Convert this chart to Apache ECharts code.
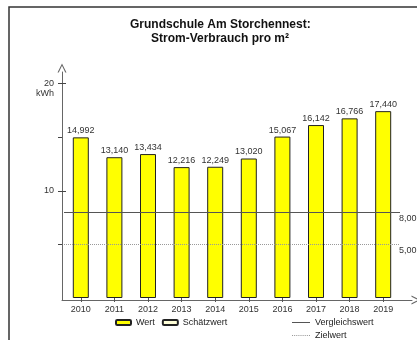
<!DOCTYPE html>
<html>
<head>
<meta charset="utf-8">
<script src="https://cdn.jsdelivr.net/npm/echarts@6/dist/echarts.min.js"></script>
<style>
  html, body { margin: 0; padding: 0; background: #fff; }
  #chart { width: 417px; height: 340px; }
</style>
</head>
<body>
<div id="chart"></div>
<script>
// Jahre und Stromverbrauch je m² (kWh)
const years = ['2010', '2011', '2012', '2013', '2014', '2015', '2016', '2017', '2018', '2019'];
const wert = [14.992, 13.140, 13.434, 12.216, 12.249, 13.020, 15.067, 16.142, 16.766, 17.440];
const schaetzwert = [];
const vergleichswert = 8;
const zielwert = 5;
const yTicks = [5, 10, 15, 20];
const yLabels = [10, 20];
const yCrossTicks = [10, 20];

const FONT = '"Liberation Sans", Arial, sans-serif';
const fmtDe = (v, d) => v.toFixed(d).replace('.', ',');
const arrowPath = 'path://M0,10 L5,0 L10,10 L8.6,10 L5,2.6 L1.4,10 Z';

// Legendensymbole: durchgezogene und gepunktete Linie
const solidIcon = 'path://M0,0 H18 V1 H0 Z';
let dots = '';
for (let i = 0; i < 18; i += 2) dots += 'M' + i + ',0 h1 v1 h-1 Z ';
const dottedIcon = 'path://' + dots.trim();

const legendText = { fontSize: 9, color: '#222', fontFamily: FONT };

const chart = echarts.init(document.getElementById('chart'));
chart.setOption({
  animation: false,
  textStyle: { fontFamily: FONT },
  graphic: [{
    type: 'rect',
    shape: { x: 9, y: 7, width: 440, height: 360 },
    style: { fill: 'none', stroke: '#333', lineWidth: 1.5 },
    silent: true
  }],
  title: [
    { text: 'Grundschule Am Storchennest:', left: 130, top: 19, padding: 0,
      textStyle: { fontSize: 12, fontWeight: 'bold', color: '#111', fontFamily: FONT } },
    { text: 'Strom-Verbrauch pro m²', left: 151, top: 33, padding: 0,
      textStyle: { fontSize: 12, fontWeight: 'bold', color: '#111', fontFamily: FONT } }
  ],
  legend: [
    {
      data: ['Wert', 'Schätzwert'],
      left: 115, top: 318, padding: 0,
      itemWidth: 15, itemHeight: 5, itemGap: 7,
      textStyle: legendText
    },
    {
      data: [{ name: 'Vergleichswert', icon: solidIcon, itemStyle: { color: '#555' } }],
      left: 292, top: 318, padding: 0,
      itemWidth: 18, itemHeight: 1.2,
      textStyle: legendText
    },
    {
      data: [{ name: 'Zielwert', icon: dottedIcon, itemStyle: { color: '#999' } }],
      left: 292, top: 331, padding: 0,
      itemWidth: 18, itemHeight: 1.2,
      textStyle: legendText
    }
  ],
  grid: [
    { left: 64, right: 17, top: 73, bottom: 42 },
    { left: 62, right: 5, top: 72, bottom: 40 }
  ],
  xAxis: [
    {
      type: 'category', data: years, gridIndex: 0, offset: 2,
      axisLine: { show: false },
      axisTick: { show: true, alignWithLabel: true, length: 4, lineStyle: { color: '#555' } },
      axisLabel: { fontSize: 9, color: '#333', margin: 5, fontFamily: FONT }
    },
    {
      type: 'value', gridIndex: 1, min: 0, max: 1,
      axisLine: { show: true, symbol: ['none', arrowPath], symbolSize: [9, 10], symbolOffset: [0, 4],
        lineStyle: { color: '#666', width: 1 } },
      axisTick: { show: false }, axisLabel: { show: false }, splitLine: { show: false }
    }
  ],
  yAxis: [
    {
      type: 'value', gridIndex: 0, position: 'left', min: 0, max: 21, offset: 2,
      axisLine: { show: false },
      axisTick: { show: true, length: 4, customValues: yTicks, lineStyle: { color: '#444' } },
      axisLabel: {
        fontSize: 9, color: '#333', margin: 8, customValues: yLabels, fontFamily: FONT,
        formatter: v => v === 20 ? '{p| }\n{v|20}\n{v|kWh}' : '{v|' + v + '}',
        rich: {
          p: { fontSize: 9, lineHeight: 10 },
          v: { fontSize: 9, lineHeight: 10, color: '#333', fontFamily: FONT }
        }
      },
      splitLine: { show: false }
    },
    {
      type: 'value', gridIndex: 1, position: 'left', min: 0, max: 1,
      axisLine: { show: true, symbol: ['none', arrowPath], symbolSize: [9, 10], symbolOffset: [0, 4],
        lineStyle: { color: '#666', width: 1 } },
      axisTick: { show: false }, axisLabel: { show: false }, splitLine: { show: false }
    },
    {
      // kurze Gegenstriche der beschrifteten Teilstriche innerhalb der Achse
      type: 'value', gridIndex: 0, position: 'left', min: 0, max: 21, offset: 2,
      axisLine: { show: false },
      axisTick: { show: true, inside: true, length: 4, customValues: yCrossTicks, lineStyle: { color: '#444' } },
      axisLabel: { show: false }, splitLine: { show: false }
    }
  ],
  series: [
    {
      name: 'Wert', type: 'bar', data: wert, barWidth: 16, barGap: '-100%',
      xAxisIndex: 0, yAxisIndex: 0,
      itemStyle: { color: '#ffff00', borderColor: '#222', borderWidth: 1 },
      label: {
        show: true, position: 'top', distance: 2,
        fontSize: 9, color: '#333', fontFamily: FONT,
        formatter: p => fmtDe(p.value, 3)
      }
    },
    {
      name: 'Schätzwert', type: 'bar', data: schaetzwert, barWidth: 16, barGap: '-100%',
      xAxisIndex: 0, yAxisIndex: 0,
      itemStyle: { color: '#ffffd8', borderColor: '#222', borderWidth: 1 }
    },
    {
      name: 'Vergleichswert', type: 'line', data: [], symbol: 'none',
      xAxisIndex: 0, yAxisIndex: 0,
      itemStyle: { color: '#555' },
      lineStyle: { color: '#555', width: 1, type: 'solid' },
      markLine: {
        silent: true, symbol: 'none', animation: false,
        lineStyle: { color: '#555', width: 1, type: 'solid' },
        label: { show: true, position: 'end', distance: 0, offset: [-1, 6],
          fontSize: 9, color: '#333', fontFamily: FONT, formatter: p => fmtDe(p.value, 2) },
        data: [{ yAxis: vergleichswert }]
      }
    },
    {
      name: 'Zielwert', type: 'line', data: [], symbol: 'none',
      xAxisIndex: 0, yAxisIndex: 0,
      itemStyle: { color: '#999' },
      lineStyle: { color: '#999', width: 1, type: 'dotted' },
      markLine: {
        silent: true, symbol: 'none', animation: false,
        lineStyle: { color: '#999', width: 1, type: 'dotted' },
        label: { show: true, position: 'end', distance: 0, offset: [-1, 6],
          fontSize: 9, color: '#333', fontFamily: FONT, formatter: p => fmtDe(p.value, 2) },
        data: [{ yAxis: zielwert }]
      }
    }
  ]
});
</script>
</body>
</html>
